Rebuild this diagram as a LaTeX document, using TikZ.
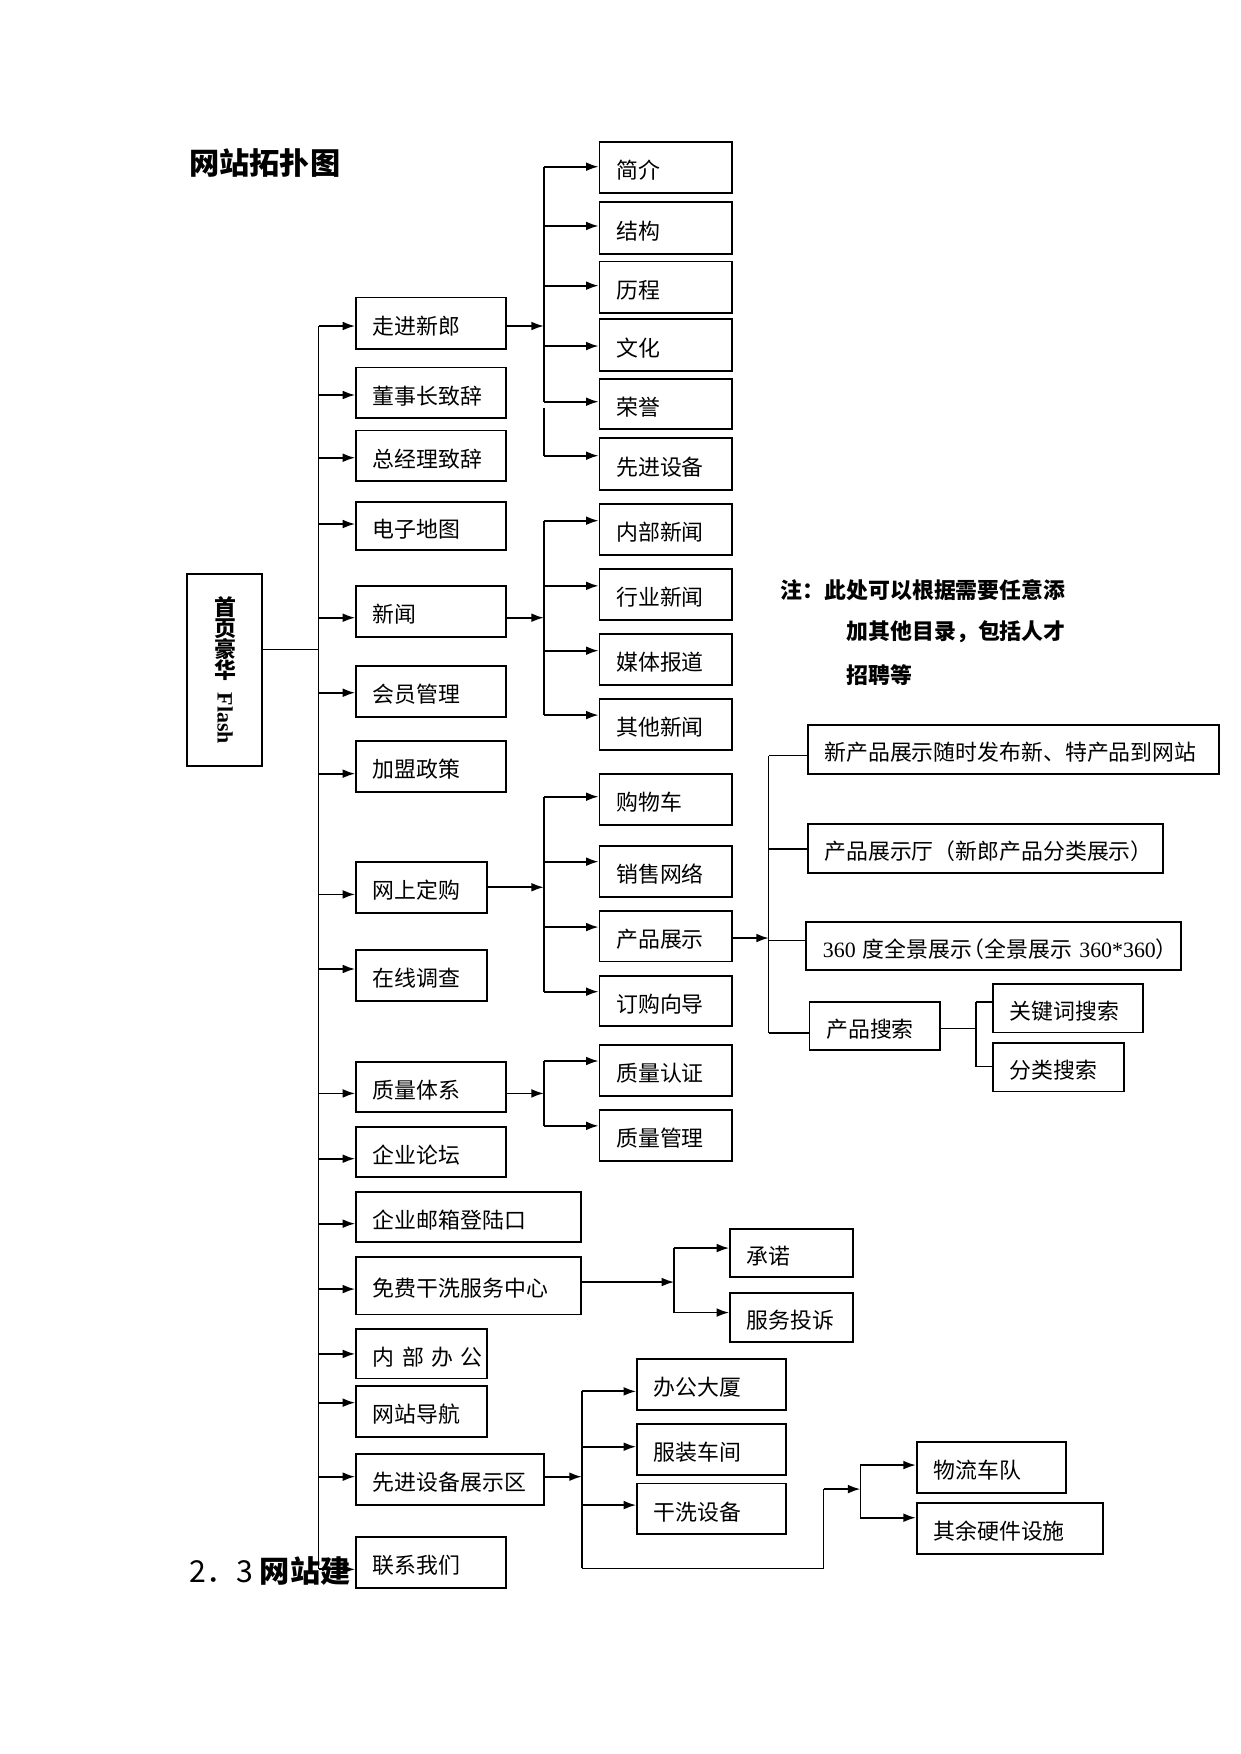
\documentclass[tikz,border=0pt]{standalone}
\usepackage{fontspec}
\usepackage{graphicx}
\setmainfont{Liberation Serif}
\newfontfamily\cjk{Noto Sans CJK SC}
\usetikzlibrary{arrows.meta}
\def\un{0.5363pt}
\newcommand\vchar[1]{\raisebox{-0.16em}{\rotatebox{90}{\raisebox{0pt}[0.83em][0.13em]{#1}}}}
\tikzset{
  bx/.style={draw, line width=0.85pt, inner xsep=8.04pt, inner ysep=0pt, align=left,
    font=\cjk\fontsize{10.5pt}{12pt}\selectfont, text height=10.7pt, text depth=0pt},
  ln/.style={line width=0.85pt},
  trunkln/.style={line width=0.65pt},
  thinln/.style={line width=0.6pt},
  ar/.style={line width=0.85pt, -{Latex[length=6pt,width=4.2pt]}},
  notetext/.style={font=\cjk\bfseries\fontsize{10.5pt}{12pt}\selectfont, anchor=west, inner sep=0pt},
  bigtext/.style={anchor=west, inner sep=0pt, font=\cjk\fontsize{14.5pt}{16pt}\selectfont},
}
\newcommand\tkbox[7][]{%
  \pgfmathsetlengthmacro\bxw{(#5-#3)*\un}%
  \pgfmathsetlengthmacro\bxh{(#6-#4)*\un}%
  \pgfmathsetlengthmacro\bxtw{(#5-#3-30)*\un}%
  \node[bx, minimum width=\bxw, minimum height=\bxh, text width=\bxtw, #1] (#2) at ({(#3+#5)/2},{(#4+#6)/2}) {\mbox{#7}};%
}
\begin{document}
\begin{tikzpicture}[x=0.5363pt, y=-0.5363pt]
\useasboundingbox (0,0) rectangle (1110,1568.86);
\fill[white] (0,0) rectangle (1110,1568.86);

% title and section heading
\node[bigtext, font=\cjk\bfseries\fontsize{14.5pt}{16pt}\selectfont] (title) at (168.9,146) {网站拓扑图};
\node[bigtext] (sec) at (169,1405.6) {2．3 {\bfseries 网站建}};

% note
\node[notetext] (note1) at (698,528) {注：此处可以根据需要任意添};
\node[notetext] (note2) at (757,565) {加其他目录，包括人才};
\node[notetext] (note3) at (757,603.4) {招聘等};

% root
\pgfmathsetlengthmacro\rw{(234.6-167.5)*\un}
\pgfmathsetlengthmacro\rh{(684.9-513.4)*\un}
\node[draw, line width=0.85pt, minimum width=\rw, minimum height=\rh, inner sep=0pt] (root) at (201.05,599.15) {};
\node[rotate=-90, inner sep=0pt, font=\cjk\bfseries\fontsize{10.5pt}{12pt}\selectfont] (roottext) at (201.3,600)
  {\vchar{首}\vchar{页}\vchar{豪}\vchar{华}\hspace{0.5em}{\rmfamily\bfseries Flash}};

% level 1
\tkbox{b1}{318.5}{266}{452.9}{311.9}{走进新郎}
\tkbox{b2}{318.5}{328.6}{452.9}{374.2}{董事长致辞}
\tkbox{b3}{318.5}{385}{452.9}{430.5}{总经理致辞}
\tkbox{b4}{318.5}{448.7}{452.9}{492}{电子地图}
\tkbox{b5}{318.5}{524}{452.9}{570}{新闻}
\tkbox{b6}{318.5}{596}{452.9}{641.5}{会员管理}
\tkbox{b7}{318.5}{663}{452.9}{708.6}{加盟政策}
\tkbox{b8}{318.5}{770.7}{435.7}{816.6}{网上定购}
\tkbox{b9}{318.5}{850}{435.7}{895.6}{在线调查}
\tkbox{b10}{318.5}{949.6}{452.9}{994.7}{质量体系}
\tkbox{b11}{318.5}{1007.7}{452.9}{1052.8}{企业论坛}
\tkbox{b12}{318.5}{1066}{519.7}{1111}{企业邮箱登陆口}
\tkbox{b13}{318.5}{1124}{519.7}{1175.7}{免费干洗服务中心}
\tkbox{b14}{318.5}{1189}{435.7}{1232.9}{内 部 办 公}
\tkbox{b15}{318.5}{1240}{435.7}{1285.6}{网站导航}
\tkbox{b16}{318.5}{1300.2}{486.5}{1346.2}{先进设备展示区}
\tkbox[fill=white]{b17}{318.5}{1375}{452.9}{1420.7}{联系我们}

% level 2: about
\tkbox{a1}{536.2}{127.3}{654.7}{172.9}{简介}
\tkbox{a2}{536.2}{181}{654.7}{227.2}{结构}
\tkbox{a3}{536.2}{233.8}{654.7}{279.7}{历程}
\tkbox{a4}{536.2}{285.6}{654.7}{331.6}{文化}
\tkbox{a5}{536.2}{338.7}{654.7}{384}{荣誉}
\tkbox{a6}{536.2}{392}{654.7}{438.3}{先进设备}
% news
\tkbox{n1}{536.2}{451}{654.7}{496.7}{内部新闻}
\tkbox{n2}{536.2}{509}{654.7}{554.8}{行业新闻}
\tkbox{n3}{536.2}{567}{654.7}{613}{媒体报道}
\tkbox{n4}{536.2}{625}{654.7}{670.8}{其他新闻}
% order
\tkbox{o1}{536.2}{692}{654.7}{738}{购物车}
\tkbox{o2}{536.2}{756.4}{654.7}{802}{销售网络}
\tkbox{o3}{536.2}{814.5}{654.7}{860}{产品展示}
\tkbox{o4}{536.2}{873}{654.7}{918}{订购向导}
% quality
\tkbox{q1}{536.2}{934.4}{654.7}{980}{质量认证}
\tkbox{q2}{536.2}{992.6}{654.7}{1038.5}{质量管理}
% cleaning
\tkbox{c1}{653}{1099}{762.8}{1142.5}{承诺}
\tkbox{c2}{653}{1156.3}{762.8}{1200.6}{服务投诉}
% equipment
\tkbox{e1}{569.8}{1215.3}{703}{1261}{办公大厦}
\tkbox{e2}{569.8}{1273.4}{703}{1319.3}{服装车间}
\tkbox{e3}{569.8}{1326.8}{703}{1372.4}{干洗设备}
\tkbox{f1}{820}{1289.5}{953.2}{1335.4}{物流车队}
\tkbox{f2}{820}{1344}{986.6}{1389.7}{其余硬件设施}
% products
\tkbox{p1}{722.4}{648.2}{1090}{692.2}{新产品展示随时发布新、特产品到网站}
\tkbox{p2}{722.4}{736.8}{1040}{781}{产品展示厅（新郎产品分类展示）}
\tkbox{p3}{721}{824.4}{1056}{867.6}{{\rmfamily 360} 度全景展示\makebox[0.55em][r]{（}全景展示 {\rmfamily 360*360}\makebox[0.55em][l]{）}}
\tkbox{p4}{724.1}{896.2}{841}{939.2}{产品搜索}
\tkbox{k1}{888.3}{879.9}{1022.2}{923.5}{关键词搜索}
\tkbox{k2}{888.3}{932.6}{1005.2}{976.2}{分类搜索}

% trunk
\coordinate (tTop) at (285,291.6);
\coordinate (tBot) at (285,1403.7);
\draw[trunkln] (tTop) -- (tBot);
\coordinate (rj) at (285,581);
\draw[ln] (root.east |- rj) -- (rj);
\foreach \n/\y in {b1/291.6,b2/353.3,b3/409.4,b4/468.7,b5/552.5,b6/619.6,b7/692,b8/800,b9/866.7,
  b10/978,b11/1036.4,b12/1094.5,b13/1153,b14/1211,b15/1254.6,b16/1320.8,b17/1403.7}
  {\coordinate (j-\n) at (285,\y); \draw[ar] (j-\n) -- (j-\n -| \n.west);}

% about bracket
\coordinate (gA) at (486.5,291.6);
\draw[ar] (b1.east |- gA) -- (gA);
\coordinate (gAt) at (486.5,149.1); \coordinate (gAm) at (486.5,359.3);
\coordinate (gAm2) at (486.5,364.5); \coordinate (gAb) at (486.5,407.6);
\draw[ln] (gAt) -- (gAm); \draw[ln] (gAm2) -- (gAb);
\foreach \n/\y in {a1/149.1,a2/202.1,a3/255.5,a4/309.5,a5/359.3,a6/407.6}
  {\coordinate (j-\n) at (486.5,\y); \draw[ar] (j-\n) -- (j-\n -| \n.west);}

% news bracket
\coordinate (gN) at (486.5,552.5);
\draw[ar] (b5.east |- gN) -- (gN);
\coordinate (gNt) at (486.5,465.7); \coordinate (gNb) at (486.5,639.6);
\draw[ln] (gNt) -- (gNb);
\foreach \n/\y in {n1/465.7,n2/524,n3/582,n4/639.6}
  {\coordinate (j-\n) at (486.5,\y); \draw[ar] (j-\n) -- (j-\n -| \n.west);}

% order bracket
\coordinate (gO) at (486.5,793.6);
\draw[ar] (b8.east |- gO) -- (gO);
\coordinate (gOt) at (486.5,712.6); \coordinate (gOb) at (486.5,887);
\draw[ln] (gOt) -- (gOb);
\foreach \n/\y in {o1/712.6,o2/770.7,o3/829.2,o4/887}
  {\coordinate (j-\n) at (486.5,\y); \draw[ar] (j-\n) -- (j-\n -| \n.west);}

% quality bracket
\coordinate (gQ) at (486.5,978);
\draw[ar] (b10.east |- gQ) -- (gQ);
\coordinate (gQt) at (486.5,949); \coordinate (gQb) at (486.5,1007);
\draw[ln] (gQt) -- (gQb);
\foreach \n/\y in {q1/949,q2/1007}
  {\coordinate (j-\n) at (486.5,\y); \draw[ar] (j-\n) -- (j-\n -| \n.west);}

% cleaning bracket
\coordinate (gC) at (603,1146.7);
\draw[ar] (b13.east |- gC) -- (gC);
\coordinate (gCt) at (603,1116.3); \coordinate (gCb) at (603,1174);
\draw[ln] (gCt) -- (gCb);
\foreach \n/\y in {c1/1116.3,c2/1174}
  {\coordinate (j-\n) at (603,\y); \draw[ar] (j-\n) -- (j-\n -| \n.west);}

% equipment bracket
\coordinate (gE) at (520.4,1320.8);
\draw[ar] (b16.east |- gE) -- (gE);
\coordinate (gEt) at (520.4,1244.5); \coordinate (gEb) at (520.4,1402.8);
\draw[ln] (gEt) -- (gEb);
\foreach \n/\y in {e1/1244.5,e2/1294,e3/1346.2}
  {\coordinate (j-\n) at (520.4,\y); \draw[ar] (j-\n) -- (j-\n -| \n.west);}
\coordinate (eC1) at (736.6,1402.8); \coordinate (eC2) at (736.6,1331.9);
\coordinate (gF) at (769.6,1331.9);
\draw[thinln] (gEb) -- (eC1) -- (eC2);
\draw[ar] (eC2) -- (gF);
\coordinate (gFt) at (769.6,1310.4); \coordinate (gFb) at (769.6,1357.5);
\draw[ln] (gFt) -- (gFb);
\foreach \n/\y in {f1/1310.4,f2/1357.5}
  {\coordinate (j-\n) at (769.6,\y); \draw[ar] (j-\n) -- (j-\n -| \n.west);}

% products bracket
\coordinate (gP) at (687.7,839);
\draw[ar] (o3.east |- gP) -- (gP);
\coordinate (gPt) at (687.7,676); \coordinate (gPb) at (687.7,924);
\draw[thinln] (gPt) -- (gPb);
\foreach \n/\y in {p1/676,p2/759.4,p3/841,p4/924}
  {\coordinate (j-\n) at (687.7,\y); \draw[thinln] (j-\n) -- (j-\n -| \n.west);}

% search bracket
\coordinate (gK) at (873,919.7);
\draw[thinln] (p4.east |- gK) -- (gK);
\coordinate (gKt) at (873,896.2); \coordinate (gKb) at (873,954);
\draw[thinln] (gKt) -- (gKb);
\foreach \n/\y in {k1/896.2,k2/954}
  {\coordinate (j-\n) at (873,\y); \draw[thinln] (j-\n) -- (j-\n -| \n.west);}
\end{tikzpicture}
\end{document}
